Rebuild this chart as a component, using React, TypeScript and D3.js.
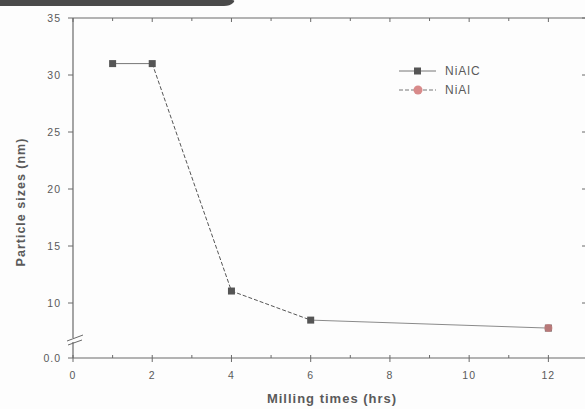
import React from "react";
import * as d3 from "d3";

const hours = [1, 2, 4, 6, 12];
const niAlC = [31, 31, 11.05, 8.5, 7.8];
const niAlHours = [12];
const niAl = [7.8];
const yTicks = [10, 15, 20, 25, 30, 35];
const xTicks = [0, 2, 4, 6, 8, 10, 12];
const xMinor = [1, 3, 5, 7, 9, 11];
const segStyles = ["solid", "dash", "dash", "light"];

const W = 585, H = 409;
const x = d3.scaleLinear().domain([0, 13]).range([73, 588]);
const y = d3.scaleLinear().domain([10, 35]).range([303, 18]);
const yBottom = 358;
const left = 73, top = 18;
const txt = "#5a5a5a";
const axisC = "#6a6a6a";

export default function App() {
  const pts = hours.map((h, i) => [x(h), y(niAlC[i])] as [number, number]);
  return (
    <svg width={W} height={H} style={{ position: "absolute", left: 0, top: 0, background: "#fdfdfd" }}
      fontFamily="Liberation Sans, Arial, sans-serif">
      {/* header bar */}
      <path d="M0,0 H232 Q236,0 233,3 Q230,6 224,6 H0 Z" fill="#4a4a4a" />
      {/* frame */}
      <line x1={left} x2={W} y1={top} y2={top} stroke={axisC} strokeWidth={1.2} />
      <line x1={left} x2={left} y1={top} y2={yBottom} stroke={axisC} strokeWidth={1.2} />
      <line x1={left} x2={W} y1={yBottom} y2={yBottom} stroke={axisC} strokeWidth={1.2} />
      <line x1={587} x2={587} y1={top} y2={yBottom} stroke={axisC} strokeWidth={1.2} />
      {/* axis break */}
      <rect x={left - 2} y={338} width={4} height={4} fill="#fdfdfd" />
      <line x1={67} x2={83} y1={341} y2={335} stroke={axisC} strokeWidth={1} />
      <line x1={68} x2={82} y1={345} y2={340} stroke={axisC} strokeWidth={1} />
      {/* y ticks */}
      {yTicks.map(v => (
        <g key={"y" + v}>
          <line x1={left - 5} x2={left} y1={y(v)} y2={y(v)} stroke={axisC} />
          <line x1={582} x2={587} y1={y(v)} y2={y(v)} stroke={axisC} />
          <text x={left - 12} y={y(v)} dy="0.35em" textAnchor="end" fontSize={10.5} letterSpacing={1} fill={txt}>{v}</text>
        </g>
      ))}
      <line x1={left - 5} x2={left} y1={yBottom} y2={yBottom} stroke={axisC} />
      <text x={left - 12} y={yBottom} dy="0.35em" textAnchor="end" fontSize={10.5} letterSpacing={1} fill={txt}>0.0</text>
      {/* x ticks */}
      {xTicks.map(v => (
        <g key={"x" + v}>
          <line x1={x(v)} x2={x(v)} y1={yBottom - 3} y2={yBottom + 4} stroke={axisC} />
          <line x1={x(v)} x2={x(v)} y1={top} y2={top + 4} stroke={axisC} />
          <text x={x(v)} y={yBottom + 17} dy="0.35em" textAnchor="middle" fontSize={10.5} letterSpacing={1} fill={txt}>{v}</text>
        </g>
      ))}
      {xMinor.map(v => (
        <g key={"m" + v}>
          <line x1={x(v)} x2={x(v)} y1={yBottom - 3} y2={yBottom} stroke={axisC} />
          <line x1={x(v)} x2={x(v)} y1={top} y2={top + 3} stroke={axisC} />
        </g>
      ))}
      {/* titles */}
      <text transform={`translate(25,202) rotate(-90)`} textAnchor="middle"
        fontSize={12.5} fontWeight="bold" letterSpacing={1} fill={txt}>Particle sizes (nm)</text>
      <text x={332} y={403} textAnchor="middle" fontSize={13} fontWeight="bold" fill={txt}
        letterSpacing={1}>Milling times (hrs)</text>
      {/* series line */}
      {pts.slice(1).map((p, i) => {
        const s = segStyles[i];
        return (
          <line key={"s" + i} x1={pts[i][0]} y1={pts[i][1]} x2={p[0]} y2={p[1]}
            stroke={s === "light" ? "#8a8a8a" : s === "dash" ? "#555" : "#777"}
            strokeWidth={1}
            strokeDasharray={s === "dash" ? "4,2" : undefined} />
        );
      })}
      {pts.map((p, i) => (
        <rect key={"p" + i} x={p[0] - 3.5} y={p[1] - 3.5} width={7} height={7} fill="#555" />
      ))}
      {niAlHours.map((h, i) => (
        <circle key={"c" + i} cx={x(h)} cy={y(niAl[i])} r={4} fill="#c98080" opacity={0.85} />
      ))}
      {/* legend */}
      <line x1={399} x2={436} y1={71} y2={71} stroke="#777" />
      <rect x={414} y={67.5} width={7} height={7} fill="#555" />
      <text x={445} y={71} dy="0.35em" fontSize={12} letterSpacing={1} fill={txt}>NiAlC</text>
      <line x1={399} x2={436} y1={90} y2={90} stroke="#777" strokeDasharray="4,2" />
      <circle cx={418} cy={90} r={4.5} fill="#d88a8a" />
      <text x={445} y={90} dy="0.35em" fontSize={12} letterSpacing={1} fill={txt}>NiAl</text>
    </svg>
  );
}
